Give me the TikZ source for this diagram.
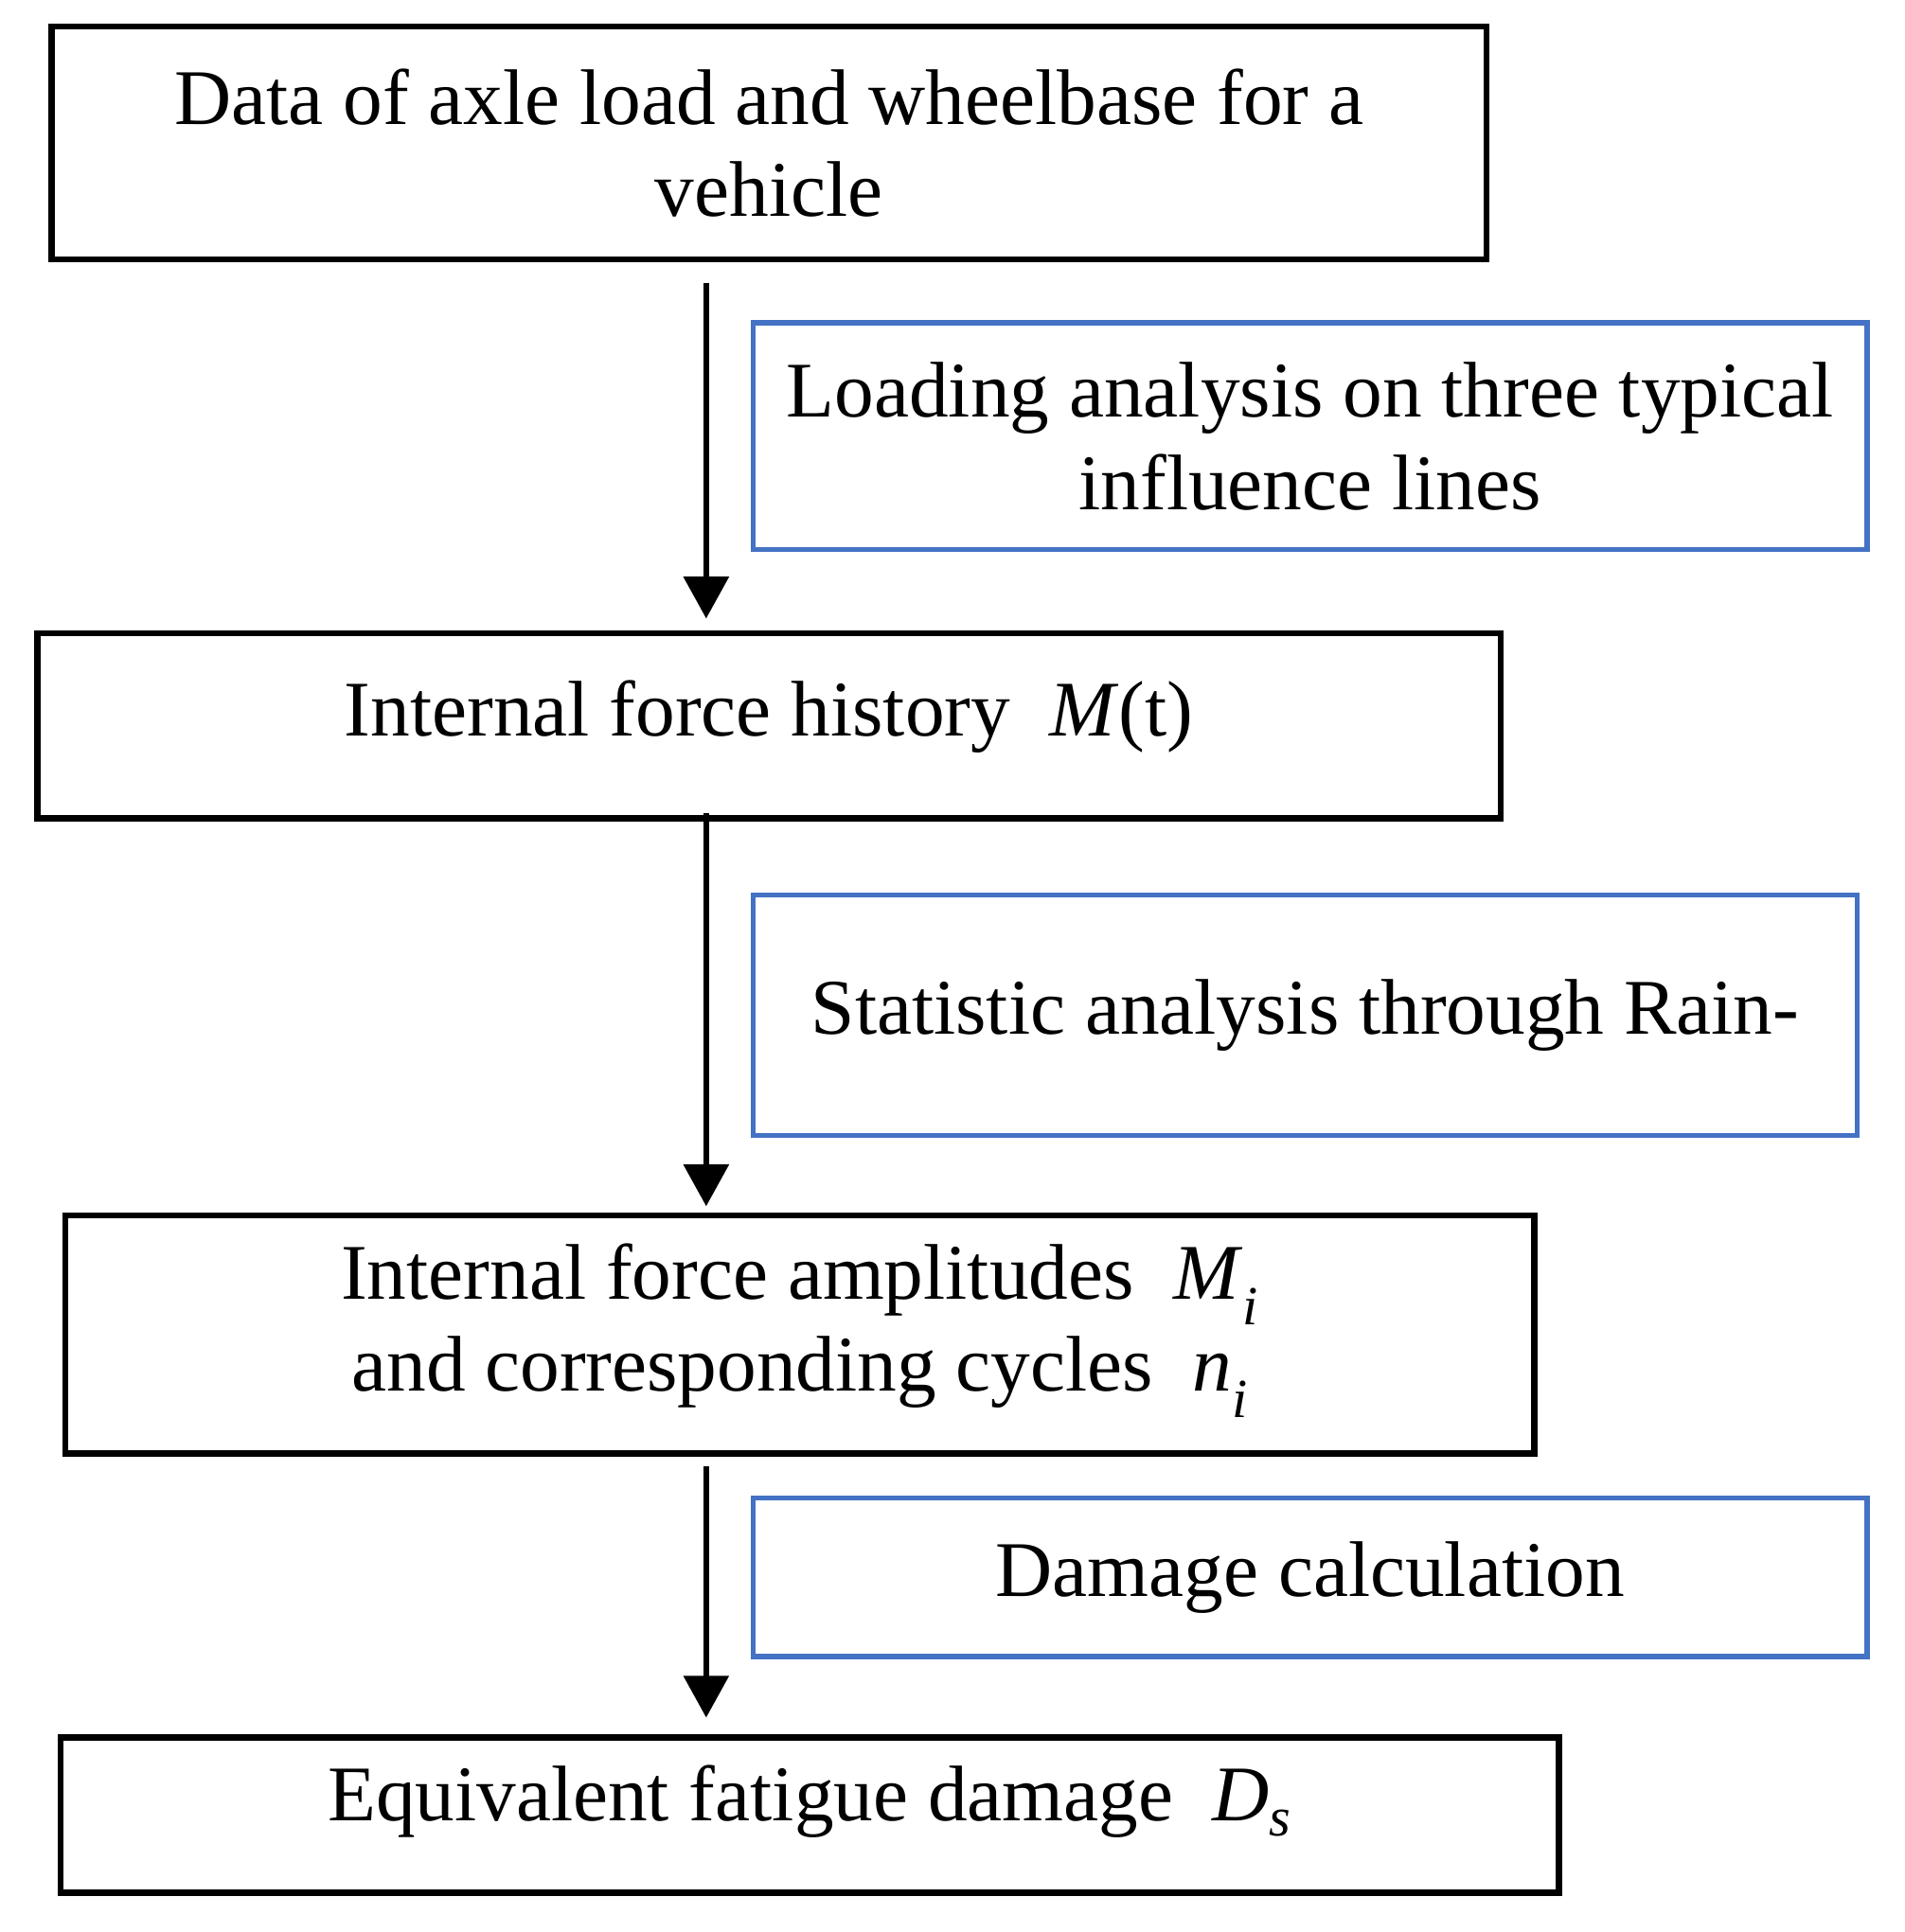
\documentclass[tikz,border=0pt]{standalone}
\usepackage{fontspec}
\setmainfont{Liberation Serif}
\usetikzlibrary{arrows.meta}
\definecolor{bl}{HTML}{4472C4}
\newcommand{\sbi}[1]{\textsubscript{\textit{#1}}}
\begin{document}
\begin{tikzpicture}[x=1pt,y=-1pt,
  box/.style={draw=black,line width=5pt,inner sep=0pt,align=center,font=\fontsize{64}{75}\selectfont},
  bbox/.style={draw=bl,line width=4pt,inner sep=0pt,align=center,font=\fontsize{64}{75}\selectfont},
  arr/.style={line width=5pt,-{Triangle[length=34pt,width=36pt]}}]
\useasboundingbox (0,0) rectangle (1545,1568);
\node[box,minimum width=1164pt,minimum height=189pt] (b1) at (624,116) {Data of axle load and wheelbase for a\\vehicle};
\node[bbox,minimum width=904pt,minimum height=184pt] (c1) at (1063,354) {Loading analysis on three typical\\influence lines};
\node[box,minimum width=1187pt,minimum height=150pt] (b2) at (624,589) {Internal force history~ \textit{M}(t)\\[-47pt]};
\node[bbox,minimum width=896pt,minimum height=195pt] (c2) at (1059,824) {Statistic analysis through Rain-};
\node[box,minimum width=1192pt,minimum height=193pt] (b3) at (649,1083) {Internal force amplitudes~ \textit{M}\sbi{i}\\and corresponding cycles~ \textit{n}\sbi{i}\\[-47pt]};
\node[bbox,minimum width=904pt,minimum height=129pt] (c3) at (1063,1280) {Damage calculation};
\node[box,minimum width=1216pt,minimum height=126pt] (b4) at (657,1473) {Equivalent fatigue damage~ \textit{D}\sbi{s}\\[-39pt]};
\coordinate (s1) at (573,230); \coordinate (e1) at (573,502);
\coordinate (s2) at (573,660); \coordinate (e2) at (573,979);
\coordinate (s3) at (573,1190); \coordinate (e3) at (573,1394);
\draw[arr] (s1) -- (e1);
\draw[arr] (s2) -- (e2);
\draw[arr] (s3) -- (e3);
\end{tikzpicture}
\end{document}
